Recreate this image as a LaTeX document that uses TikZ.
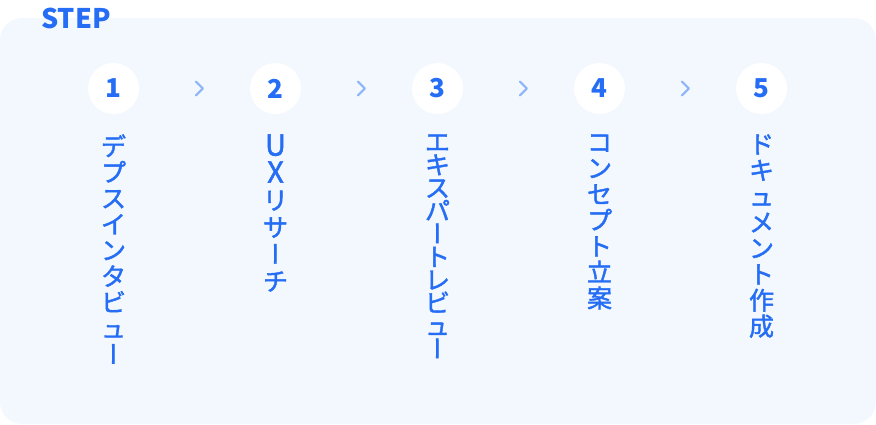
\documentclass[tikz,border=0pt]{standalone}
\usepackage{fontspec}
\setmainfont{Noto Sans CJK JP}
\newfontfamily\labelfont[FakeBold=1.6]{Noto Sans CJK JP}
\newfontfamily\vertfont[RawFeature=+vert,FakeBold=1.6]{Noto Sans CJK JP}
\usetikzlibrary{positioning,calc}
\definecolor{stepblue}{HTML}{246DF4}
\definecolor{arrowblue}{HTML}{8DB5F8}
\definecolor{panelbg}{HTML}{F3F8FE}
\newcommand{\chonpu}{{\vertfont ー}}
\newcommand{\bigletter}[1]{{\fontsize{29pt}{0pt}\selectfont #1}}
\lineskiplimit=-100pt
\tikzset{
  stepnum/.style={circle,fill=white,minimum size=51pt,inner sep=0pt,text=stepblue,font=\fontsize{26pt}{26pt}\selectfont\bfseries},
  steptext/.style={anchor=north,inner sep=0pt,align=center,text=stepblue},
  chev/.style={draw=arrowblue,line width=2pt,line cap=round,line join=round}
}
\begin{document}
\begin{tikzpicture}[x=1pt,y=-1pt]
    \useasboundingbox (0,0) rectangle (876,424);
    \fill[panelbg,rounded corners=22pt] (0,18) rectangle (876,424);
    \node[text=stepblue,font=\fontsize{27pt}{27pt}\selectfont\bfseries,anchor=base west,inner sep=0pt] (title) at (41,28) {STEP};
    % steps: number, line pitch, vertical label
    \foreach \i/\gap/\txt in {1/26pt/{デ\\プ\\ス\\イ\\ン\\タ\\ビ\\ュ\\\chonpu},2/27pt/{\bigletter{U}\\\bigletter{X}\\リ\\サ\\\chonpu\\チ},3/23pt/{エ\\キ\\ス\\パ\\\chonpu\\ト\\レ\\ビ\\ュ\\\chonpu},4/26pt/{コ\\ン\\セ\\プ\\ト\\立\\案},5/26pt/{ド\\キ\\ュ\\メ\\ン\\ト\\作\\成}}{
        \node[stepnum] (n\i) at ({113.5+162*(\i-1)},88.5) {\i};
        \node[steptext,below=20pt of n\i,font=\labelfont\fontsize{25pt}{\gap}\selectfont] (t\i) {\txt};
    }
    \foreach \i [count=\j from 2] in {1,...,4}
        \draw[chev] ($(n\i)!0.53!(n\j)+(-3.5,-7)$) -- ++(7,7) -- ++(-7,7);
\end{tikzpicture}
\end{document}
